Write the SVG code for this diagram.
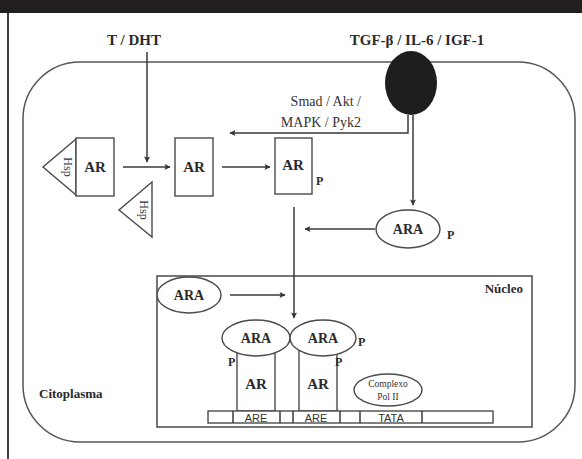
<svg xmlns="http://www.w3.org/2000/svg" width="582" height="459" viewBox="0 0 582 459">
<defs>
<marker id="ah" viewBox="0 0 10 10" refX="9" refY="5" markerWidth="8" markerHeight="6" markerUnits="userSpaceOnUse" orient="auto">
<path d="M0,0 L10,5 L0,10 L2,5 Z" fill="#333"/>
</marker>
<style>
.ln{stroke:#3a3a3a;stroke-width:1.5;fill:none}
.bx{stroke:#4a4a4a;stroke-width:1.4;fill:#fff}
.b{font-family:"Liberation Serif",serif;font-weight:bold;fill:#2a2a2a}
.r{font-family:"Liberation Serif",serif;fill:#333}
.s{font-family:"Liberation Sans",sans-serif;fill:#333}
</style>
</defs>
<rect width="582" height="459" fill="#fff"/>
<rect x="0" y="0" width="582" height="13" fill="#231f20"/>
<line x1="8" y1="13" x2="8" y2="459" stroke="#111" stroke-width="1.6"/>

<g id="cell">
<rect x="23" y="62" width="552" height="380" rx="57" ry="57" fill="none" stroke="#555" stroke-width="1.5"/>
<text class="b" x="39" y="398" font-size="13">Citoplasma</text>
</g>

<g id="nucleus">
<rect x="157" y="276" width="375" height="151" fill="none" stroke="#4a4a4a" stroke-width="1.5"/>
<text class="b" x="523" y="293" font-size="13" text-anchor="end">Núcleo</text>
</g>

<g id="ligand-t">
<text class="b" x="134" y="45" font-size="15" text-anchor="middle">T / DHT</text>
</g>
<g id="ligand-tgf">
<text class="b" x="417" y="45" font-size="15" text-anchor="middle">TGF-β / IL-6 / IGF-1</text>
</g>
<g id="receptor">
<ellipse cx="411" cy="83" rx="26" ry="32" fill="#1e1e1e"/>
</g>
<g id="kinases">
<text class="r" x="361" y="106" font-size="14" text-anchor="end">Smad / Akt /</text>
<text class="r" x="361" y="127" font-size="14" text-anchor="end">MAPK / Pyk2</text>
</g>

<g id="hsp-ar">
<polygon class="bx" points="76,139 43,167 76,195"/>
<rect class="bx" x="76" y="138" width="38" height="58"/>
<text class="b" x="95" y="172" font-size="15" text-anchor="middle">AR</text>
<text class="r" x="64" y="167" font-size="12" text-anchor="middle" transform="rotate(90 64 167)">Hsp</text>
</g>
<g id="hsp-free">
<polygon class="bx" points="152,182 119,210 152,237"/>
<text class="r" x="140" y="210" font-size="12" text-anchor="middle" transform="rotate(90 140 210)">Hsp</text>
</g>
<g id="ar-free">
<rect class="bx" x="175" y="138" width="38" height="58"/>
<text class="b" x="194" y="172" font-size="15" text-anchor="middle">AR</text>
</g>
<g id="ar-p">
<rect class="bx" x="275" y="138" width="37" height="56"/>
<text class="b" x="293" y="170" font-size="15" text-anchor="middle">AR</text>
<text class="b" x="316" y="185" font-size="12">P</text>
</g>
<g id="ara-p">
<ellipse class="bx" cx="408" cy="229" rx="32" ry="19"/>
<text class="b" x="408" y="234" font-size="14" text-anchor="middle">ARA</text>
<text class="b" x="447" y="239" font-size="12">P</text>
</g>
<g id="ara-nuc">
<ellipse class="bx" cx="189" cy="295" rx="32" ry="18"/>
<text class="b" x="189" y="300" font-size="14" text-anchor="middle">ARA</text>
</g>

<g id="complex-left">
<rect class="bx" x="237" y="345" width="38" height="66"/>
<ellipse class="bx" cx="256" cy="338" rx="34" ry="18"/>
<text class="b" x="256" y="343" font-size="14" text-anchor="middle">ARA</text>
<text class="b" x="256" y="389" font-size="15" text-anchor="middle">AR</text>
<text class="b" x="228" y="366" font-size="12">P</text>
</g>
<g id="complex-right">
<rect class="bx" x="299" y="345" width="38" height="66"/>
<ellipse class="bx" cx="323" cy="338" rx="33" ry="18"/>
<text class="b" x="323" y="343" font-size="14" text-anchor="middle">ARA</text>
<text class="b" x="318" y="389" font-size="15" text-anchor="middle">AR</text>
<text class="b" x="335" y="366" font-size="12">P</text>
<text class="b" x="358" y="346" font-size="12">P</text>
</g>
<g id="polii">
<ellipse class="bx" cx="388" cy="390" rx="34" ry="16"/>
<text class="r" x="388" y="387" font-size="9.5" text-anchor="middle">Complexo</text>
<text class="r" x="388" y="400" font-size="9.5" text-anchor="middle">Pol II</text>
</g>
<g id="dna">
<rect class="bx" x="208" y="411" width="285" height="12"/>
<path class="ln" stroke-width="1.2" d="M233,411V423M280,411V423M293,411V423M340,411V423M360,411V423M422,411V423"/>
<text class="s" x="256" y="421.5" font-size="11" text-anchor="middle">ARE</text>
<text class="s" x="316" y="421.5" font-size="11" text-anchor="middle">ARE</text>
<text class="s" x="391" y="421.5" font-size="11" text-anchor="middle">TATA</text>
</g>

<g id="connectors">
<line class="ln" x1="147" y1="52" x2="147" y2="162" marker-end="url(#ah)"/>
<line class="ln" x1="123" y1="167" x2="170" y2="167" marker-end="url(#ah)"/>
<line class="ln" x1="222" y1="167" x2="270" y2="167" marker-end="url(#ah)"/>
<polyline class="ln" points="408,115 408,133 230,133" marker-end="url(#ah)"/>
<line class="ln" x1="413" y1="115" x2="413" y2="205" marker-end="url(#ah)"/>
<line class="ln" x1="375" y1="229" x2="305" y2="229" marker-end="url(#ah)"/>
<line class="ln" x1="294" y1="207" x2="294" y2="318" marker-end="url(#ah)"/>
<line class="ln" x1="230" y1="295" x2="285" y2="295" marker-end="url(#ah)"/>
</g>
</svg>
